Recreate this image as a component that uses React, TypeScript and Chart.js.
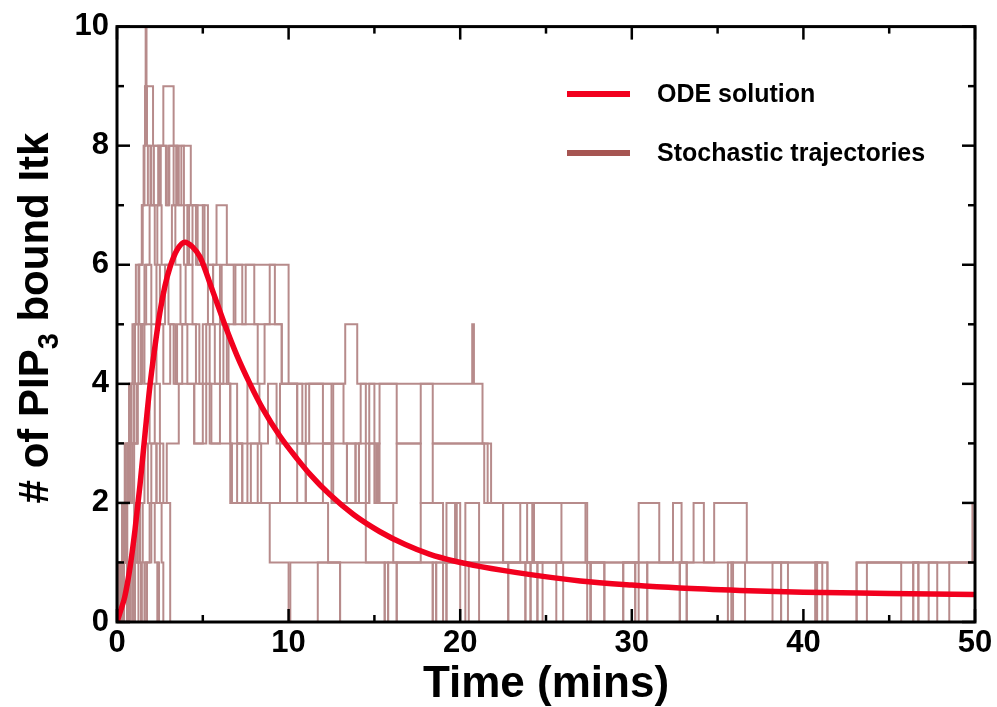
import React, { useEffect, useRef } from 'react';
import { Chart, registerables } from 'chart.js';

Chart.register(...registerables);

// ---- axis ticks ----
const xMajorTicks = [0, 10, 20, 30, 40, 50];
const xMinorTicks = [5, 15, 25, 35, 45];
const yMajorTicks = [0, 2, 4, 6, 8, 10];
const yMinorTicks = [1, 3, 5, 7, 9];

// ---- ODE solution (time in mins, # bound) ----
const odeTime = [0, 0.2, 0.45, 0.76, 1.05, 1.34, 1.63, 1.92, 2.2, 2.5, 2.8, 3.09, 3.5, 3.96, 4.4, 4.84, 5.5, 6.3, 7.0, 7.75, 8.5, 9.5, 10.5, 11.25, 12.4, 13.8, 15.3, 16.8, 18.2, 19.7, 21.2, 24, 27, 30, 32.8, 36.3, 40, 45, 50];
const odeValue = [0, 0.18, 0.42, 0.92, 1.55, 2.3, 3.15, 3.97, 4.6, 5.2, 5.65, 5.96, 6.25, 6.38, 6.3, 6.13, 5.62, 4.98, 4.47, 4.0, 3.58, 3.12, 2.74, 2.48, 2.14, 1.8, 1.52, 1.3, 1.14, 1.02, 0.93, 0.8, 0.69, 0.62, 0.57, 0.53, 0.5, 0.48, 0.46];

// ---- stochastic trajectories: [jump time, new count] ----
const trajA: [number, number][] = [[0,0],[0.15,1],[0.3,2],[0.5,3],[0.7,4],[0.9,5],[1.1,6],[1.5,7],[1.6,8],[1.64,9],[1.67,10],[1.72,9],[2.1,8],[2.7,9],[3.3,8],[3.6,7],[3.75,8],[4.3,7],[5.1,6],[5.8,7],[6.4,6],[10.0,4],[13.3,5],[14.0,4],[20.7,5],[20.8,4],[21.3,3],[21.6,2],[27.4,1],[30.4,2],[31.6,1],[32.4,2],[32.9,1],[33.6,2],[34.2,1],[34.8,2],[36.7,1],[41.4,0],[43.1,1],[49.85,2],[50,2]];
const trajB: [number, number][] = [[0,0],[0.25,1],[0.4,2],[0.6,3],[0.8,4],[1.0,5],[1.3,6],[1.45,7],[1.55,8],[1.63,9],[1.75,8],[2.0,7],[2.4,8],[2.9,7],[3.05,8],[3.5,7],[3.9,6],[4.1,7],[4.6,6],[5.3,5],[5.6,6],[6.0,5],[6.9,6],[7.3,5],[8.2,4],[8.6,5],[9.6,4],[10.5,3],[11.0,4],[12.0,3],[12.6,4],[13.2,3],[14.2,4],[14.5,3],[14.7,4],[15.0,3],[15.3,4],[16.3,3],[17.7,2],[18.4,3],[21.8,2],[22.5,1],[23.5,2],[23.9,1],[24.2,2],[24.3,1],[26.0,0],[27.6,1],[28.4,0],[30.2,1],[30.9,0],[35.6,1],[35.9,0],[38.2,1],[38.7,0],[40.7,1],[41.1,0],[50,0]];
const trajC: [number, number][] = [[0,0],[0.35,1],[0.55,2],[0.75,3],[1.0,4],[1.25,5],[1.6,6],[1.9,7],[2.2,6],[2.35,7],[2.6,6],[3.2,7],[3.4,6],[3.7,5],[4.0,6],[4.4,5],[4.8,4],[5.2,5],[5.7,4],[6.2,5],[6.5,4],[7.0,3],[7.6,4],[8.3,3],[8.8,4],[9.3,3],[9.5,4],[10.8,3],[11.2,4],[12.5,3],[13.4,2],[13.9,3],[14.1,2],[14.7,3],[15.1,2],[15.2,3],[15.3,2],[16.1,1],[17.7,2],[19.0,1],[19.2,2],[19.7,1],[19.8,2],[20.0,1],[20.3,2],[21.1,1],[22.8,0],[23.8,1],[24.1,0],[29.5,1],[30.4,0],[32.8,1],[33.2,0],[50,0]];
const trajD: [number, number][] = [[0,0],[0.2,1],[0.5,2],[0.9,3],[1.15,4],[1.4,5],[1.7,6],[2.0,5],[2.3,6],[2.5,5],[2.8,6],[3.0,5],[3.3,4],[3.5,5],[4.1,4],[4.5,3],[5.2,4],[5.5,3],[6.0,4],[6.6,3],[6.7,2],[7.8,3],[8.4,2],[12.3,1],[13.0,0],[15.6,1],[15.8,0],[16.3,1],[18.4,0],[18.6,1],[20.5,0],[24.5,1],[24.8,0],[27.4,1],[28.4,0],[46.4,1],[46.7,0],[50,0]];
const trajE: [number, number][] = [[0,0],[0.3,1],[0.6,2],[0.9,3],[1.2,4],[1.5,5],[2.0,4],[2.3,5],[2.7,4],[3.1,5],[3.4,4],[3.8,5],[4.6,4],[5.0,5],[5.4,4],[6.0,5],[6.4,4],[6.6,3],[7.3,2],[7.6,3],[8.2,2],[8.9,1],[10.0,0],[11.7,1],[13.0,0],[19.0,1],[19.2,0],[22.8,1],[23.8,0],[25.6,1],[27.6,0],[35.8,1],[36.6,0],[43.7,1],[45.7,0],[47.3,1],[47.8,0],[50,0]];
const trajF: [number, number][] = [[0,0],[0.4,1],[0.6,0],[0.9,1],[1.3,2],[1.5,1],[1.9,2],[2.2,1],[2.4,0],[10.1,1],[41.4,0],[43.1,1],[50,1]];
const trajG: [number, number][] = [[0,0],[0.1,1],[0.3,2],[0.45,3],[0.6,2],[0.8,3],[1.0,2],[1.2,1],[1.35,2],[1.6,3],[1.8,2],[2.0,3],[2.3,2],[2.6,1],[2.7,0],[15.8,1],[16.3,0],[20.3,1],[21.1,0],[24.1,1],[24.5,0],[29.5,1],[30.2,0],[38.7,1],[39.1,0],[46.4,1],[46.7,0],[48.5,1],[50,1]];
const trajH: [number, number][] = [[0,0],[0.2,1],[0.4,0],[0.7,1],[1.0,2],[1.1,1],[1.4,0],[1.7,1],[2.0,2],[2.3,3],[2.5,2],[3.1,0],[18.4,1],[18.6,0],[30.9,1],[32.8,0],[40.7,1],[40.8,0],[50,0]];
const trajI: [number, number][] = [[0,0],[0.25,1],[0.45,2],[0.65,3],[0.8,4],[1.0,3],[1.2,4],[1.4,5],[1.6,4],[1.9,3],[2.2,4],[2.5,3],[2.7,2],[2.9,3],[3.6,4],[4.5,3],[5.0,4],[5.4,3],[6.6,2],[7.0,3],[7.3,2],[9.5,3],[10.5,2],[11.0,3],[12.5,2],[13.4,3],[13.9,2],[14.1,3],[14.5,2],[14.7,3],[15.0,2],[16.3,3],[17.7,4],[18.4,3],[21.4,2],[22.5,1],[25.9,2],[27.3,1],[27.6,0],[50,0]];
const trajJ: [number, number][] = [[0,0],[0.3,1],[0.5,2],[0.7,3],[0.85,4],[1.05,5],[1.25,6],[1.45,7],[1.8,8],[1.95,7],[2.15,8],[2.45,7],[2.55,8],[2.85,7],[3.0,8],[3.3,7],[3.45,8],[3.9,7],[4.2,6],[4.4,7],[4.7,6],[5.0,7],[5.3,6],[5.6,5],[6.1,6],[6.8,5],[7.5,6],[8.0,5],[8.9,6],[9.2,5],[9.6,4],[10.5,3],[11.0,2],[12.0,3],[12.6,2],[14.5,1],[15.6,0],[19.2,1],[20.0,0],[32.8,1],[33.2,0],[50,0]];
const trajK: [number, number][] = [[0,0],[0.05,1],[0.12,0],[0.2,1],[0.28,0],[0.35,1],[0.42,2],[0.5,1],[0.58,0],[0.65,1],[0.8,0],[0.95,1],[1.05,0],[1.25,1],[1.45,0],[1.6,1],[1.75,0],[2.35,1],[2.45,0],[50,0]];

const trajectories = [trajA, trajB, trajC, trajD, trajE, trajF, trajG, trajH, trajI, trajJ, trajK];

const odeLabel = 'ODE solution';
const stochLabel = 'Stochastic trajectories';
const xTitle = 'Time (mins)';

const RED = '#f2001e';
const TRAJ = '#b78b8b';
const TRAJ_LEGEND = '#a65552';
const FONT = '"Liberation Sans", Arial, Helvetica, sans-serif';

const decorPlugin = {
  id: 'decor',
  afterDatasetsDraw(chart: any) {
    const { ctx, chartArea: a, scales } = chart;
    const xs = scales.x;
    const ys = scales.y;
    ctx.save();
    ctx.strokeStyle = '#000';
    ctx.lineCap = 'butt';
    const seg = (x1: number, y1: number, x2: number, y2: number) => {
      ctx.beginPath();
      ctx.moveTo(x1, y1);
      ctx.lineTo(x2, y2);
      ctx.stroke();
    };
    ctx.lineWidth = 2.5;
    const major = 13;
    const minor = 7;
    xMajorTicks.forEach((v) => {
      const p = xs.getPixelForValue(v);
      seg(p, a.bottom, p, a.bottom - major);
      seg(p, a.top, p, a.top + major);
    });
    xMinorTicks.forEach((v) => {
      const p = xs.getPixelForValue(v);
      seg(p, a.bottom, p, a.bottom - minor);
      seg(p, a.top, p, a.top + minor);
    });
    yMajorTicks.forEach((v) => {
      const p = ys.getPixelForValue(v);
      seg(a.left, p, a.left + major, p);
      seg(a.right, p, a.right - major, p);
    });
    yMinorTicks.forEach((v) => {
      const p = ys.getPixelForValue(v);
      seg(a.left, p, a.left + minor, p);
      seg(a.right, p, a.right - minor, p);
    });
    ctx.lineWidth = 3;
    ctx.strokeRect(a.left, a.top, a.right - a.left, a.bottom - a.top);

    // legend
    ctx.lineWidth = 6;
    ctx.strokeStyle = RED;
    seg(567, 94, 630, 94);
    ctx.strokeStyle = TRAJ_LEGEND;
    seg(567, 153, 630, 153);
    ctx.fillStyle = '#000';
    ctx.font = `bold 25px ${FONT}`;
    ctx.textAlign = 'left';
    ctx.textBaseline = 'middle';
    ctx.fillText(odeLabel, 657, 95);
    ctx.fillText(stochLabel, 657, 154);

    // x title
    ctx.font = `bold 44px ${FONT}`;
    ctx.textAlign = 'center';
    ctx.textBaseline = 'alphabetic';
    ctx.fillText(xTitle, (a.left + a.right) / 2, 697);

    // y title with subscript
    const big = `bold 42px ${FONT}`;
    const small = `bold 29px ${FONT}`;
    const p1 = '# of PIP';
    const p2 = '3';
    const p3 = ' bound Itk';
    ctx.font = big;
    const w1 = ctx.measureText(p1).width;
    const w3 = ctx.measureText(p3).width;
    ctx.font = small;
    const w2 = ctx.measureText(p2).width;
    const total = w1 + w2 + w3;
    ctx.translate(48, 318);
    ctx.rotate(-Math.PI / 2);
    ctx.textAlign = 'left';
    let x0 = -total / 2;
    ctx.font = big;
    ctx.fillText(p1, x0, 0);
    x0 += w1;
    ctx.font = small;
    ctx.fillText(p2, x0, 10);
    x0 += w2;
    ctx.font = big;
    ctx.fillText(p3, x0, 0);
    ctx.restore();
  },
};

export default function App() {
  const canvasRef = useRef<HTMLCanvasElement | null>(null);

  useEffect(() => {
    if (!canvasRef.current) return;
    const datasets: any[] = [
      {
        label: odeLabel,
        data: odeTime.map((t, i) => ({ x: t, y: odeValue[i] })),
        borderColor: RED,
        borderWidth: 5.5,
        pointRadius: 0,
        cubicInterpolationMode: 'monotone',
        fill: false,
      },
      ...trajectories.map((tr, k) => ({
        label: k === 0 ? stochLabel : `${stochLabel} ${k + 1}`,
        data: tr.map(([t, v]) => ({ x: t, y: v })),
        borderColor: TRAJ,
        borderWidth: 2,
        pointRadius: 0,
        stepped: 'before',
        fill: false,
      })),
    ];
    const tickFont = { family: FONT, size: 31, weight: 'bold' as const };
    const chart = new Chart(canvasRef.current, {
      type: 'line',
      data: { datasets },
      plugins: [decorPlugin],
      options: {
        animation: false,
        responsive: true,
        maintainAspectRatio: false,
        layout: { padding: { top: 20, right: 22, bottom: 0, left: 0 } },
        plugins: { legend: { display: false }, tooltip: { enabled: false }, title: { display: false } },
        scales: {
          x: {
            type: 'linear',
            min: 0,
            max: 50,
            grid: { display: false, drawTicks: false },
            border: { display: false },
            ticks: { stepSize: 10, color: '#000', font: tickFont, padding: 3, maxRotation: 0, autoSkip: false },
            afterFit: (s: any) => { s.height = 85; },
          },
          y: {
            type: 'linear',
            min: 0,
            max: 10,
            grid: { display: false, drawTicks: false },
            border: { display: false },
            ticks: { stepSize: 2, color: '#000', font: tickFont, padding: 8, autoSkip: false },
            afterFit: (s: any) => { s.width = 117; },
          },
        },
      },
    });
    return () => chart.destroy();
  }, []);

  return (
    <div style={{ position: 'fixed', left: 0, top: 0, width: 997, height: 707, background: '#fff' }}>
      <canvas ref={canvasRef} />
    </div>
  );
}
